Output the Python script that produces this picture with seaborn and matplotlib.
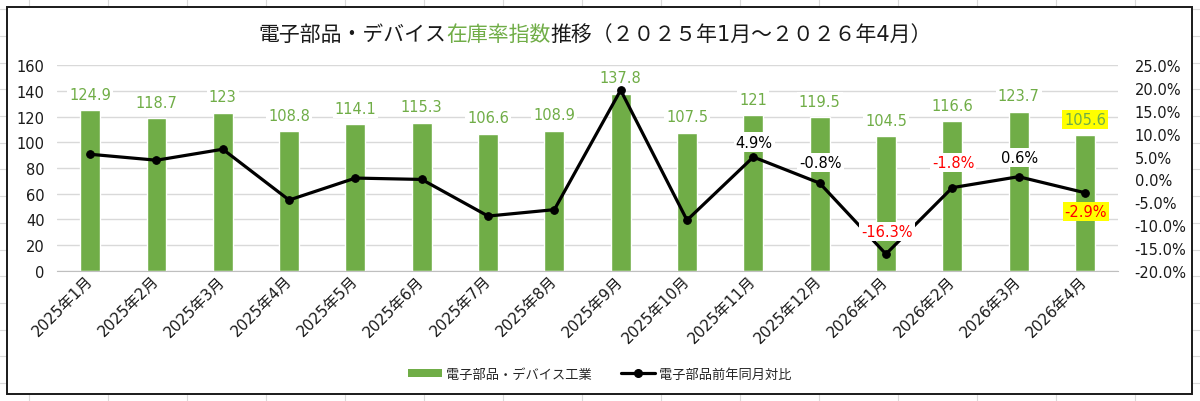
import numpy as np
import pandas as pd
import matplotlib
matplotlib.use("Agg")
import matplotlib.pyplot as plt
import seaborn as sns
from matplotlib.patches import Patch, Rectangle
from matplotlib.lines import Line2D
from matplotlib.ticker import FuncFormatter, MultipleLocator
from matplotlib.offsetbox import TextArea, HPacker, AnchoredOffsetbox

# データ
months = ["2025年1月", "2025年2月", "2025年3月", "2025年4月", "2025年5月", "2025年6月",
          "2025年7月", "2025年8月", "2025年9月", "2025年10月", "2025年11月", "2025年12月",
          "2026年1月", "2026年2月", "2026年3月", "2026年4月"]
inventory_index = [124.9, 118.7, 123, 108.8, 114.1, 115.3, 106.6, 108.9,
                   137.8, 107.5, 121, 119.5, 104.5, 116.6, 123.7, 105.6]
yoy = [0.055, 0.042, 0.066, -0.045, 0.003, 0.000, -0.080, -0.066,
       0.195, -0.089, 0.049, -0.008, -0.163, -0.018, 0.006, -0.029]
yoy_labels = [None] * 10 + ["4.9%", "-0.8%", "-16.3%", "-1.8%", "0.6%", "-2.9%"]
yoy_label_colors = [None] * 10 + ["black", "black", "red", "red", "black", "red"]

bar_name = "電子部品・デバイス工業"
line_name = "電子部品前年同月対比"

GREEN = "#70AD47"
FONTS = ["DejaVu Sans", "Noto Sans CJK JP"]

sns.set_style("white")
plt.rcParams["font.family"] = FONTS

df = pd.DataFrame({"month": months, "index": inventory_index, "yoy": yoy,
                   "pos": np.arange(len(months))})

fig = plt.figure(figsize=(12, 4.02), dpi=100)

# Excel のシート枠線とチャート枠
bg = fig.add_axes([0, 0, 1, 1], zorder=-5)
bg.set_xlim(0, 1200)
bg.set_ylim(402, 0)
bg.axis("off")
for x in np.arange(29, 1200, 79):
    bg.axvline(x, color="#DADADA", lw=0.8, zorder=1)
for y in np.arange(384, 0, -26.7):
    bg.axhline(y, color="#DADADA", lw=0.8, zorder=1)
bg.add_patch(Rectangle((7, 8), 1185, 387, facecolor="white", edgecolor="#1A1A1A",
                       lw=1.4, zorder=3))

ax1 = fig.add_axes([0.0475, 0.3234, 0.8842, 0.5124])
ax1.set_facecolor("none")
sns.barplot(data=df, x="month", y="index", color=GREEN, saturation=1, width=0.3, ax=ax1)

ax1.set_ylim(0, 160)
ax1.yaxis.set_major_locator(MultipleLocator(20))
ax1.grid(axis="y", color="#D9D9D9", lw=1)
ax1.set_axisbelow(True)
ax1.set_xlabel("")
ax1.set_ylabel("")
for s in ["top", "right", "left"]:
    ax1.spines[s].set_visible(False)
ax1.spines["bottom"].set_color("#BFBFBF")
ax1.tick_params(axis="y", length=0, pad=9, labelsize=10.5, labelcolor="#1A1A1A")
ax1.tick_params(axis="x", which="major", length=0, pad=5, labelsize=11, labelcolor="#1A1A1A")
ax1.set_xticks(np.arange(len(months) + 1) - 0.5, minor=True)
ax1.tick_params(axis="x", which="minor", length=4, color="#BFBFBF")
for lab in ax1.get_xticklabels():
    lab.set_rotation(45)
    lab.set_ha("right")
    lab.set_va("center")
    lab.set_rotation_mode("anchor")

# 棒のデータラベル
texts = ax1.bar_label(ax1.containers[0], labels=[f"{v:g}" for v in inventory_index],
                      padding=6, color=GREEN, fontsize=10.5)
for i, t in enumerate(texts):
    fc = "#FFFF00" if i == len(texts) - 1 else "white"
    t.set_bbox(dict(facecolor=fc, edgecolor="none", pad=1.5))

# 前年同月比（右軸）
ax2 = ax1.twinx()
sns.lineplot(data=df, x="pos", y="yoy", ax=ax2, color="black", lw=2.3,
             marker="o", markersize=5.5, markeredgecolor="black")
ax2.set_ylim(-0.20, 0.25)
ax2.yaxis.set_major_locator(MultipleLocator(0.05))
ax2.yaxis.set_major_formatter(FuncFormatter(lambda v, p: f"{v * 100:.1f}%"))
ax2.set_ylabel("")
ax2.set_xlabel("")
for s in ["top", "right", "left", "bottom"]:
    ax2.spines[s].set_visible(False)
ax2.tick_params(axis="y", length=0, pad=12, labelsize=10.5, labelcolor="#1A1A1A")
ax1.set_xlim(-0.5, len(months) - 0.5)

offsets = {10: 15, 11: 21, 12: 23, 13: 25, 14: 19, 15: -19}
for i, (lab, col) in enumerate(zip(yoy_labels, yoy_label_colors)):
    if lab is None:
        continue
    fc = "#FFFF00" if i == len(months) - 1 else "white"
    ax2.annotate(lab, (i, yoy[i]), xytext=(1, offsets[i]), textcoords="offset pixels",
                 ha="center", va="center", color=col, fontsize=10.5, zorder=5,
                 bbox=dict(facecolor=fc, edgecolor="none", pad=1.5))

# タイトル（一部を緑色に）
parts = [("電子部品・デバイス", "#1A1A1A"), ("在庫率指数", GREEN),
         ("推移（２０２５年1月～２０２６年4月）", "#1A1A1A")]
boxes = [TextArea(t, textprops=dict(color=c, fontsize=15, family=FONTS)) for t, c in parts]
title = AnchoredOffsetbox(loc="center", child=HPacker(children=boxes, align="baseline", pad=0, sep=0),
                          frameon=False, pad=0, borderpad=0,
                          bbox_to_anchor=(0.496, 1 - 35 / 402), bbox_transform=fig.transFigure)
fig.add_artist(title)

handles = [Patch(facecolor=GREEN, edgecolor="none"),
           Line2D([], [], color="black", lw=2.3, marker="o", markersize=5.5)]
fig.legend(handles, [bar_name, line_name], loc="center", bbox_to_anchor=(0.5, 1 - 375 / 402),
           ncol=2, frameon=False, fontsize=9.5, handlelength=2.6, handleheight=0.5,
           columnspacing=2.2, handletextpad=0.3)

fig.savefig("out.png", dpi=100)
